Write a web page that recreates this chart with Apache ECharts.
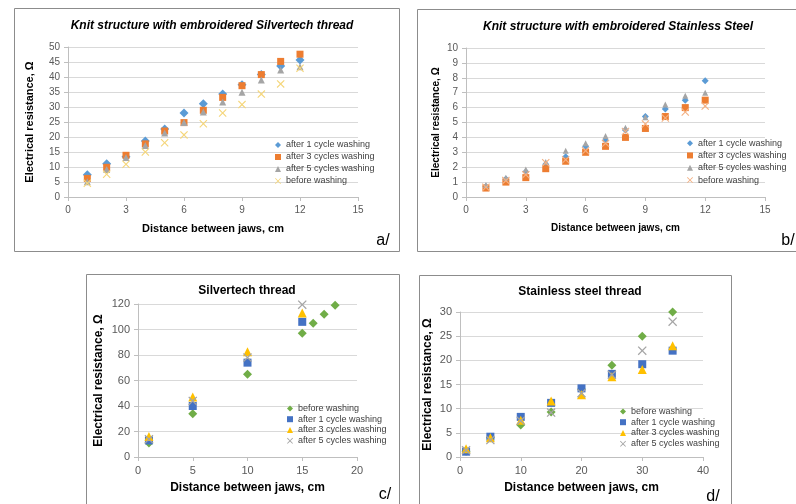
<!DOCTYPE html>
<html><head><meta charset="utf-8">
<script src="https://cdn.jsdelivr.net/npm/echarts@6/dist/echarts.min.js"></script>
<style>html,body{margin:0;padding:0;background:#fff;}#c{width:796px;height:504px;}</style>
</head><body><div id="c"></div>
<script>
// ---- Panel a: Knit structure with embroidered Silvertech thread
const xA = [1,2,3,4,5,6,7,8,9,10,11,12];
const aAfter1 = [7.4,11.1,13.4,18.7,22.7,28.0,31.1,34.3,37.4,40.8,43.7,45.7];
const aAfter3 = [6.2,9.9,13.9,17.7,22.0,24.8,28.9,33.2,37.1,40.8,45.2,47.6];
const aAfter5 = [5.1,9.2,13.2,17.2,21.3,24.8,28.3,31.7,34.9,39.0,42.3,43.4];
const aBefore = [4.6,7.6,10.9,15.0,18.1,20.7,24.4,28.0,30.8,34.3,37.7,42.9];
// ---- Panel b: Knit structure with embroidered Stainless Steel
const xB = [1,2,3,4,5,6,7,8,9,10,11,12];
const bAfter1 = [0.7,1.2,1.7,2.2,2.7,3.4,3.8,4.5,5.4,5.9,6.5,7.8];
const bAfter3 = [0.6,1.0,1.3,1.9,2.4,3.0,3.4,4.0,4.6,5.4,6.0,6.5];
const bAfter5 = [0.8,1.3,1.85,2.35,3.1,3.6,4.1,4.65,5.35,6.2,6.8,7.0];
const bBefore = [0.65,1.1,1.5,2.3,2.5,3.1,3.6,4.4,4.9,5.3,5.7,6.1];
// ---- Panel c: Silvertech thread
const xCBefore = [1,5,10,15,16,17,18];
const cBefore = [11,34,65,97,105,112,119];
const xC = [1,5,10,15];
const cAfter1 = [13,40,74,106];
const cAfter3 = [16,47,82.5,113];
const cAfter5 = [14,44,78,119.5];
// ---- Panel d: Stainless steel thread
const xD = [1,5,10,15,20,25,30,35];
const dBefore = [1.2,4.0,6.6,9.3,14.0,19.0,25.0,30.0];
const dAfter1 = [1.1,4.2,8.3,11.2,14.2,17.2,19.2,22.0];
const dAfter3 = [1.7,4.0,7.6,11.6,12.9,16.6,18.1,23.0];
const dAfter5 = [1.4,3.5,7.5,9.2,13.2,17.0,22.0,28.0];

const L1 = 'after 1 cycle washing', L3 = 'after 3 cycles washing', L5 = 'after 5 cycles washing', L0 = 'before washing';
const XS = 'path://M0,1L1,0L5,4L9,0L10,1L6,5L10,9L9,10L5,6L1,10L0,9L4,5Z';
const FONT = '"Liberation Sans", Arial, sans-serif';

function sc(panel, idx, label, xs, ys, symbol, size, color) {
  return { name: panel + '|' + label, type: 'scatter', xAxisIndex: idx, yAxisIndex: idx,
    data: xs.map((x, i) => [x, ys[i]]), symbol: symbol, symbolSize: size,
    itemStyle: { color: color, opacity: 1 }, emphasis: { disabled: true }, animation: false };
}
function xax(idx, max, interval, name, gap, nameSize, labelSize) {
  return { type: 'value', gridIndex: idx, min: 0, max: max, interval: interval,
    name: name, nameLocation: 'middle', nameGap: gap,
    nameTextStyle: { fontFamily: FONT, fontWeight: 'bold', fontSize: nameSize, color: '#000' },
    axisLine: { show: true, lineStyle: { color: '#bfbfbf' } },
    axisTick: { show: true, length: 4, lineStyle: { color: '#bfbfbf' } },
    axisLabel: { fontFamily: FONT, fontSize: labelSize, color: '#595959', margin: 8 },
    splitLine: { show: false } };
}
function yax(idx, max, interval, gap, nameSize, labelSize) {
  return { type: 'value', gridIndex: idx, min: 0, max: max, interval: interval,
    name: 'Electrical resistance, Ω', nameLocation: 'middle', nameGap: gap,
    nameTextStyle: { fontFamily: FONT, fontWeight: 'bold', fontSize: nameSize, color: '#000' },
    axisLine: { show: true, lineStyle: { color: '#bfbfbf' } },
    axisTick: { show: true, length: 4, lineStyle: { color: '#bfbfbf' } },
    axisLabel: { fontFamily: FONT, fontSize: labelSize, color: '#595959', margin: 8 },
    splitLine: { show: true, lineStyle: { color: '#d9d9d9', width: 1 } } };
}
function leg(panel, labels, left, top, lh) {
  return { orient: 'vertical', left: left, top: top, itemWidth: 6, itemHeight: 6, itemGap: 0,
    selectedMode: false, padding: 0,
    data: labels.map(l => panel + '|' + l),
    formatter: n => n.split('|')[1],
    textStyle: { fontFamily: FONT, fontSize: 9, color: '#404040', lineHeight: lh } };
}

const chart = echarts.init(document.getElementById('c'), null, { renderer: 'canvas' });
chart.setOption({
  animation: false,
  backgroundColor: '#fff',
  title: [
    { text: 'Knit structure with embroidered Silvertech thread', left: 207, top: 15, textAlign: 'center',
      textStyle: { fontFamily: FONT, fontSize: 12, fontWeight: 'bold', fontStyle: 'italic', color: '#000' } },
    { text: 'Knit structure with embroidered Stainless Steel', left: 613, top: 16, textAlign: 'center',
      textStyle: { fontFamily: FONT, fontSize: 12, fontWeight: 'bold', fontStyle: 'italic', color: '#000' } },
    { text: 'Silvertech thread', left: 242, top: 280, textAlign: 'center',
      textStyle: { fontFamily: FONT, fontSize: 12, fontWeight: 'bold', color: '#000' } },
    { text: 'Stainless steel thread', left: 575, top: 281, textAlign: 'center',
      textStyle: { fontFamily: FONT, fontSize: 12, fontWeight: 'bold', color: '#000' } }
  ],
  grid: [
    { left: 68, top: 47, width: 290, height: 150 },
    { left: 466, top: 48, width: 299, height: 149 },
    { left: 138, top: 304, width: 219, height: 153 },
    { left: 460, top: 312, width: 243, height: 145 }
  ],
  xAxis: [
    xax(0, 15, 3, 'Distance between jaws, cm', 26, 11, 10),
    xax(1, 15, 3, 'Distance between jaws, cm', 26, 10, 10),
    xax(2, 20, 5, 'Distance between jaws, cm', 25, 12, 11),
    xax(3, 40, 10, 'Distance between jaws, cm', 25, 12, 11)
  ],
  yAxis: [
    yax(0, 50, 5, 33, 11, 10),
    yax(1, 10, 1, 25, 10, 10),
    yax(2, 120, 20, 33, 12, 11),
    yax(3, 30, 5, 26, 12, 11)
  ],
  legend: [
    leg('a', [L1, L3, L5, L0], 275, 139, 12),
    leg('b', [L1, L3, L5, L0], 687, 137, 12.3),
    leg('c', [L0, L1, L3, L5], 287, 403, 10.8),
    leg('d', [L0, L1, L3, L5], 620, 406, 10.8)
  ],
  series: [
    sc('a', 0, L1, xA, aAfter1, 'diamond', 9, '#5B9BD5'),
    sc('a', 0, L3, xA, aAfter3, 'rect', 7, '#ED7D31'),
    sc('a', 0, L5, xA, aAfter5, 'triangle', 7, '#A5A5A5'),
    sc('a', 0, L0, xA, aBefore, XS, 8, '#F5D67A'),
    sc('b', 1, L1, xB, bAfter1, 'diamond', 7, '#5B9BD5'),
    sc('b', 1, L3, xB, bAfter3, 'rect', 7, '#ED7D31'),
    sc('b', 1, L5, xB, bAfter5, 'triangle', 6, '#A5A5A5'),
    sc('b', 1, L0, xB, bBefore, XS, 8, '#F4B183'),
    sc('c', 2, L0, xCBefore, cBefore, 'diamond', 9, '#70AD47'),
    sc('c', 2, L1, xC, cAfter1, 'rect', 8, '#4472C4'),
    sc('c', 2, L3, xC, cAfter3, 'triangle', 9, '#FFC000'),
    sc('c', 2, L5, xC, cAfter5, XS, 9, '#A5A5A5'),
    sc('d', 3, L0, xD, dBefore, 'diamond', 9, '#70AD47'),
    sc('d', 3, L1, xD, dAfter1, 'rect', 8, '#4472C4'),
    sc('d', 3, L3, xD, dAfter3, 'triangle', 9, '#FFC000'),
    sc('d', 3, L5, xD, dAfter5, XS, 9, '#A5A5A5')
  ],
  graphic: [
    { type: 'rect', shape: { x: 14.5, y: 8.5, width: 385, height: 243 }, style: { fill: 'none', stroke: '#8c8c8c', lineWidth: 1 }, z: -1 },
    { type: 'rect', shape: { x: 417.5, y: 9.5, width: 390, height: 242 }, style: { fill: 'none', stroke: '#8c8c8c', lineWidth: 1 }, z: -1 },
    { type: 'rect', shape: { x: 86.5, y: 274.5, width: 313, height: 240 }, style: { fill: 'none', stroke: '#8c8c8c', lineWidth: 1 }, z: -1 },
    { type: 'rect', shape: { x: 419.5, y: 275.5, width: 312, height: 240 }, style: { fill: 'none', stroke: '#8c8c8c', lineWidth: 1 }, z: -1 },
    { type: 'text', x: 383, y: 241, style: { text: 'a/', fontFamily: FONT, fontSize: 16, fill: '#000', textAlign: 'center', textVerticalAlign: 'middle' } },
    { type: 'text', x: 788, y: 241, style: { text: 'b/', fontFamily: FONT, fontSize: 16, fill: '#000', textAlign: 'center', textVerticalAlign: 'middle' } },
    { type: 'text', x: 385, y: 495, style: { text: 'c/', fontFamily: FONT, fontSize: 16, fill: '#000', textAlign: 'center', textVerticalAlign: 'middle' } },
    { type: 'text', x: 713, y: 497, style: { text: 'd/', fontFamily: FONT, fontSize: 16, fill: '#000', textAlign: 'center', textVerticalAlign: 'middle' } }
  ]
});
</script></body></html>
